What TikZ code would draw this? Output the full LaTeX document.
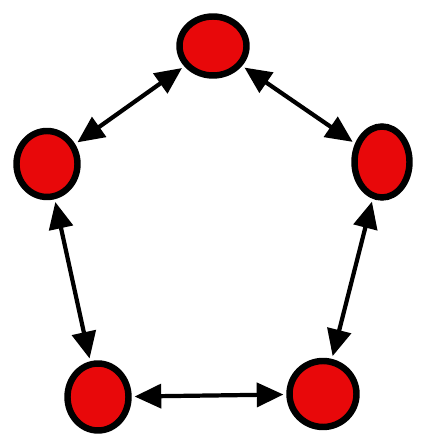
\documentclass[tikz,border=0pt]{standalone}
\usetikzlibrary{arrows.meta,shapes.geometric}
\definecolor{peerred}{RGB}{232,8,10}
\begin{document}
\begin{tikzpicture}[
    peer/.style={ellipse, draw=black, fill=peerred, line width=4.6pt, inner sep=0pt},
    link/.style={{Triangle[length=19pt,width=17pt]}-{Triangle[length=19pt,width=17pt]}, line width=3pt, black, shorten <=2pt, shorten >=2pt}]
  \useasboundingbox (0,0) rectangle (10.5,10.975);
  % Peers
  \node[peer, minimum width=1.675cm, minimum height=1.475cm] (top) at (5.325,9.825) {};
  \node[peer, minimum width=1.525cm, minimum height=1.65cm] (left) at (1.175,6.875) {};
  \node[peer, minimum width=1.375cm, minimum height=1.775cm] (right) at (9.55,6.925) {};
  \node[peer, minimum width=1.525cm, minimum height=1.675cm] (botleft) at (2.45,1.05) {};
  \node[peer, minimum width=1.675cm, minimum height=1.65cm] (botright) at (8.075,1.125) {};
  % Links
  \draw[link] (left) -- (top);
  \draw[link] (top) -- (right);
  \draw[link] (right) -- (botright);
  \draw[link] (botright) -- (botleft);
  \draw[link] (botleft) -- (left);
\end{tikzpicture}
\end{document}
